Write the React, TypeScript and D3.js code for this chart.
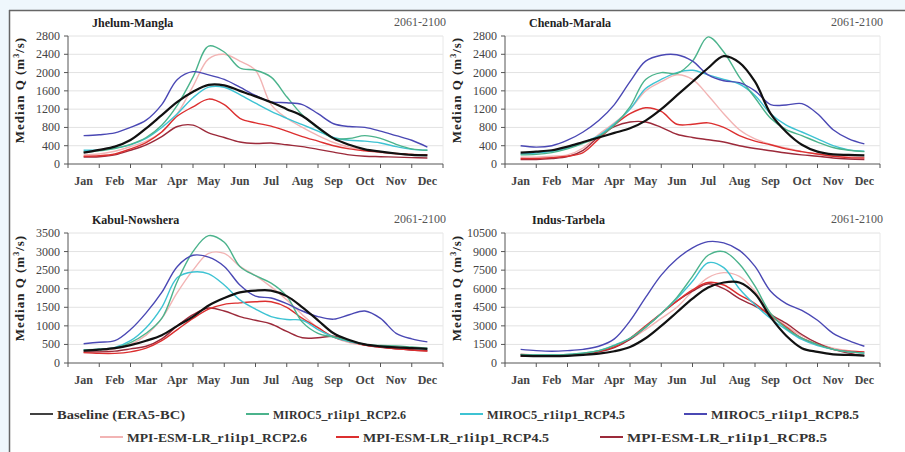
import React from 'react';
import * as d3 from 'd3';

// ---------- data ----------
const months = ['Jan', 'Feb', 'Mar', 'Apr', 'May', 'Jun', 'Jul', 'Aug', 'Sep', 'Oct', 'Nov', 'Dec'];
// half-month sample positions (month index, Jan = 0)
const steps = [0, 0.5, 1, 1.5, 2, 2.5, 3, 3.5, 4, 4.5, 5, 5.5, 6, 6.5, 7, 7.5, 8, 8.5, 9, 9.5, 10, 10.5, 11];

const seriesNames = [
  'Baseline (ERA5-BC)',
  'MIROC5_r1i1p1_RCP2.6',
  'MIROC5_r1i1p1_RCP4.5',
  'MIROC5_r1i1p1_RCP8.5',
  'MPI-ESM-LR_r1i1p1_RCP2.6',
  'MPI-ESM-LR_r1i1p1_RCP4.5',
  'MPI-ESM-LR_r1i1p1_RCP8.5',
];
const periodLabel = '2061-2100';

// Jhelum-Mangla
const jhelumBaseline = [250, 310, 380, 525, 780, 1070, 1360, 1580, 1730, 1720, 1600, 1480, 1350, 1200, 1050, 800, 560, 420, 320, 270, 230, 200, 190];
const jhelumMiroc26 = [260, 290, 340, 430, 580, 850, 1290, 1900, 2580, 2450, 2100, 2050, 1900, 1470, 1070, 780, 560, 560, 620, 560, 430, 330, 300];
const jhelumMiroc45 = [300, 310, 350, 420, 560, 800, 1100, 1450, 1680, 1680, 1520, 1330, 1150, 1000, 860, 720, 580, 520, 500, 460, 380, 320, 300];
const jhelumMiroc85 = [620, 640, 680, 800, 960, 1300, 1850, 2020, 1950, 1850, 1680, 1500, 1360, 1340, 1300, 1100, 880, 820, 800, 720, 620, 520, 370];
const jhelumMpi26 = [200, 220, 280, 380, 500, 700, 1100, 1700, 2300, 2400, 2250, 2050, 1300, 1000, 800, 620, 470, 370, 300, 250, 220, 200, 190];
const jhelumMpi45 = [170, 180, 220, 330, 470, 700, 1050, 1250, 1420, 1300, 1000, 900, 830, 720, 600, 500, 400, 330, 290, 260, 230, 210, 200];
const jhelumMpi85 = [150, 160, 200, 300, 420, 600, 820, 850, 680, 580, 480, 450, 460, 420, 380, 320, 260, 200, 170, 160, 150, 140, 130];

// Chenab-Marala
const chenabBaseline = [250, 270, 300, 380, 480, 580, 680, 780, 950, 1200, 1500, 1800, 2100, 2360, 2220, 1800, 1100, 700, 420, 270, 210, 200, 190];
const chenabMiroc26 = [200, 210, 250, 330, 450, 600, 850, 1250, 1850, 2000, 1980, 2250, 2780, 2450, 1900, 1450, 1000, 750, 620, 480, 360, 300, 270];
const chenabMiroc45 = [220, 240, 280, 350, 470, 620, 880, 1200, 1650, 1850, 2000, 2050, 1950, 1850, 1750, 1500, 1100, 850, 700, 550, 400, 310, 280];
const chenabMiroc85 = [400, 370, 400, 520, 700, 950, 1300, 1800, 2250, 2380, 2390, 2250, 1950, 1820, 1780, 1600, 1300, 1290, 1320, 1100, 750, 550, 440];
const chenabMpi26 = [150, 150, 170, 200, 350, 650, 900, 1200, 1600, 1800, 1950, 1850, 1500, 1100, 750, 550, 430, 350, 270, 220, 180, 160, 150];
const chenabMpi45 = [120, 120, 140, 170, 250, 550, 850, 1100, 1230, 1150, 870, 870, 900, 800, 620, 500, 420, 330, 270, 220, 170, 140, 130];
const chenabMpi85 = [100, 100, 120, 160, 300, 600, 820, 920, 920, 800, 650, 580, 530, 480, 400, 340, 290, 240, 200, 170, 130, 110, 100];

// Kabul-Nowshera
const kabulBaseline = [330, 360, 400, 480, 600, 750, 1000, 1250, 1550, 1750, 1900, 1950, 1950, 1800, 1500, 1150, 800, 620, 500, 450, 420, 400, 380];
const kabulMiroc26 = [350, 370, 400, 550, 800, 1200, 2200, 3000, 3430, 3250, 2600, 2350, 2150, 1800, 1100, 800, 700, 600, 500, 470, 460, 430, 400];
const kabulMiroc45 = [350, 370, 420, 600, 950, 1500, 2300, 2450, 2400, 2100, 1700, 1450, 1250, 1170, 1150, 900, 700, 580, 500, 450, 420, 400, 380];
const kabulMiroc85 = [520, 560, 600, 900, 1350, 1900, 2600, 2900, 2850, 2600, 2100, 1800, 1750, 1600, 1400, 1250, 1180, 1300, 1400, 1200, 800, 650, 570];
const kabulMpi26 = [280, 300, 380, 500, 750, 1200, 1900, 2500, 2950, 2950, 2600, 2350, 2050, 1700, 1300, 950, 700, 550, 480, 420, 380, 350, 330];
const kabulMpi45 = [280, 260, 260, 300, 400, 600, 900, 1200, 1450, 1580, 1620, 1650, 1650, 1500, 1200, 950, 700, 580, 480, 430, 380, 350, 320];
const kabulMpi85 = [300, 300, 320, 380, 450, 650, 1000, 1300, 1480, 1400, 1250, 1150, 1050, 850, 680, 680, 720, 600, 480, 420, 380, 350, 330];

// Indus-Tarbela
const indusBaseline = [600, 560, 550, 580, 650, 750, 950, 1300, 2000, 3000, 4100, 5200, 6100, 6500, 6500, 5600, 3700, 2200, 1200, 900, 700, 650, 600];
const indusMiroc26 = [700, 650, 650, 700, 800, 1000, 1400, 2000, 2900, 4000, 5300, 7000, 8700, 9000, 8000, 6200, 4000, 2800, 2000, 1500, 1100, 900, 800];
const indusMiroc45 = [650, 650, 650, 700, 800, 1000, 1450, 2000, 2900, 4000, 5200, 6600, 8100, 7700, 6000, 4700, 3600, 2700, 1900, 1400, 1100, 900, 800];
const indusMiroc85 = [1100, 1000, 950, 1000, 1100, 1350, 1950, 3400, 5300, 7100, 8400, 9300, 9800, 9700, 9100, 7800, 5800, 4800, 4250, 3450, 2400, 1800, 1350];
const indusMpi26 = [600, 600, 600, 650, 750, 950, 1300, 1900, 2700, 3600, 4500, 5800, 6900, 7300, 7000, 5800, 4000, 3000, 2200, 1600, 1200, 1000, 900];
const indusMpi45 = [700, 650, 600, 650, 750, 950, 1300, 2000, 3000, 4000, 5000, 5900, 6500, 6300, 5500, 4800, 3800, 2900, 2000, 1500, 1100, 950, 900];
const indusMpi85 = [550, 550, 560, 600, 700, 900, 1250, 1900, 2900, 4000, 5000, 5800, 6400, 6000, 5200, 4600, 3900, 3200, 2300, 1600, 1100, 800, 600];

const jhelumTicks = [0, 400, 800, 1200, 1600, 2000, 2400, 2800];
const chenabTicks = [0, 400, 800, 1200, 1600, 2000, 2400, 2800];
const kabulTicks = [0, 500, 1000, 1500, 2000, 2500, 3000, 3500];
const indusTicks = [0, 1500, 3000, 4500, 6000, 7500, 9000, 10500];

const panelTitles = ['Jhelum-Mangla', 'Chenab-Marala', 'Kabul-Nowshera', 'Indus-Tarbela'];

// ---------- styles ----------
const colors = ['#111111', '#4bb38c', '#3ec3d3', '#4a48b4', '#f2b4b4', '#dc2f2f', '#9c2a3a'];
const widths = [2.2, 1.4, 1.4, 1.4, 1.4, 1.4, 1.4];
const drawOrder = [4, 6, 5, 2, 1, 3, 0];
const FONT = '"Liberation Serif", "Times New Roman", serif';

const panelBoxes = [
  { left: 68, right: 443, top: 36, bottom: 164 },
  { left: 505, right: 880, top: 36, bottom: 164 },
  { left: 68, right: 443, top: 233, bottom: 363 },
  { left: 505, right: 880, top: 233, bottom: 363 },
];

const legendLayout = [
  { x: 30, y: 414, len: 128 },
  { x: 246, y: 414, len: 133 },
  { x: 460, y: 414, len: 138 },
  { x: 684, y: 414, len: 148 },
  { x: 100, y: 437, len: 180 },
  { x: 336, y: 437, len: 186 },
  { x: 600, y: 437, len: 200 },
];

const panelData = [
  { series: [jhelumBaseline, jhelumMiroc26, jhelumMiroc45, jhelumMiroc85, jhelumMpi26, jhelumMpi45, jhelumMpi85], ticks: jhelumTicks },
  { series: [chenabBaseline, chenabMiroc26, chenabMiroc45, chenabMiroc85, chenabMpi26, chenabMpi45, chenabMpi85], ticks: chenabTicks },
  { series: [kabulBaseline, kabulMiroc26, kabulMiroc45, kabulMiroc85, kabulMpi26, kabulMpi45, kabulMpi85], ticks: kabulTicks },
  { series: [indusBaseline, indusMiroc26, indusMiroc45, indusMiroc85, indusMpi26, indusMpi45, indusMpi85], ticks: indusTicks },
];

function Panel({ idx }: { idx: number }) {
  const box = panelBoxes[idx];
  const { series, ticks } = panelData[idx];
  const yMax = ticks[ticks.length - 1];
  const x = d3.scaleLinear().domain([-0.5, 11.5]).range([box.left, box.right]);
  const y = d3.scaleLinear().domain([0, yMax]).range([box.bottom, box.top]);
  const line = d3
    .line<number>()
    .x((_, i) => x(steps[i]))
    .y((v) => y(v))
    .curve(d3.curveCatmullRom.alpha(0.5));
  const boundaries = d3.range(-0.5, 12, 1);
  const midY = (box.top + box.bottom) / 2 - 10;
  return (
    <g>
      {/* grid */}
      {ticks.slice(1).map((t) => (
        <line key={'g' + t} x1={box.left} x2={box.right} y1={y(t)} y2={y(t)} stroke="#e2e2e2" strokeWidth={1} />
      ))}
      <line x1={box.right} x2={box.right} y1={box.top} y2={box.bottom} stroke="#e8e8e8" strokeWidth={1} />
      {/* series */}
      {drawOrder.map((s) => (
        <path key={'s' + s} d={line(series[s]) || ''} fill="none" stroke={colors[s]} strokeWidth={widths[s]} strokeLinejoin="round" />
      ))}
      {/* y axis */}
      <line x1={box.left} x2={box.left} y1={box.top} y2={box.bottom} stroke="#555" strokeWidth={1} />
      {ticks.map((t) => (
        <g key={'yt' + t}>
          <line x1={box.left - 4} x2={box.left} y1={y(t)} y2={y(t)} stroke="#555" strokeWidth={1} />
          <text x={box.left - 8} y={y(t) + 4} textAnchor="end" fontFamily={FONT} fontSize={12} fill="#444">
            {t}
          </text>
        </g>
      ))}
      {/* x axis */}
      <line x1={box.left} x2={box.right} y1={box.bottom} y2={box.bottom} stroke="#555" strokeWidth={1} />
      {boundaries.map((b) => (
        <line key={'xt' + b} x1={x(b)} x2={x(b)} y1={box.bottom} y2={box.bottom + 4} stroke="#555" strokeWidth={1} />
      ))}
      {months.map((m, i) => (
        <text key={m} x={x(i)} y={box.bottom + 21} textAnchor="middle" fontFamily={FONT} fontSize={12} fontWeight="bold" fill="#444">
          {m}
        </text>
      ))}
      {/* y label */}
      <text
        transform={`translate(${box.left - 44},${midY}) rotate(-90)`}
        textAnchor="middle"
        fontFamily={FONT}
        fontSize={13}
        fontWeight="bold"
        fill="#222"
        letterSpacing={1}
      >
        Median Q (m<tspan fontSize={8} dy={-5}>3</tspan>
        <tspan dy={5}>/s)</tspan>
      </text>
      {/* titles */}
      <text x={box.left + 24 + (idx === 3 ? 3 : 0)} y={box.top - 9} fontFamily={FONT} fontSize={12} fontWeight="bold" fill="#222">
        {panelTitles[idx]}
      </text>
      <text x={box.right + 3} y={box.top - 10} textAnchor="end" fontFamily={FONT} fontSize={12} fill="#555">
        {periodLabel}
      </text>
    </g>
  );
}

export default function App() {
  return (
    <svg width={905} height={452} style={{ position: 'absolute', left: 0, top: 0 }}>
      <rect x={0} y={0} width={905} height={452} fill="#eff7fc" />
      <rect x={9} y={10} width={896} height={442} fill="#ffffff" />
      <line x1={9} x2={905} y1={10.5} y2={10.5} stroke="#666" strokeWidth={1.5} />
      <line x1={9.5} x2={9.5} y1={10} y2={452} stroke="#666" strokeWidth={1.5} />
      {[0, 1, 2, 3].map((i) => (
        <Panel key={i} idx={i} />
      ))}
      {seriesNames.map((name, i) => {
        const l = legendLayout[i];
        return (
          <g key={name}>
            <line x1={l.x} x2={l.x + 23} y1={l.y} y2={l.y} stroke={colors[i]} strokeWidth={i === 0 ? 1.6 : 2} />
            <text
              x={l.x + 27}
              y={l.y + 4.5}
              fontFamily={FONT}
              fontSize={13}
              fontWeight="bold"
              fill="#333"
              textLength={l.len}
              lengthAdjust="spacingAndGlyphs"
            >
              {name}
            </text>
          </g>
        );
      })}
    </svg>
  );
}
